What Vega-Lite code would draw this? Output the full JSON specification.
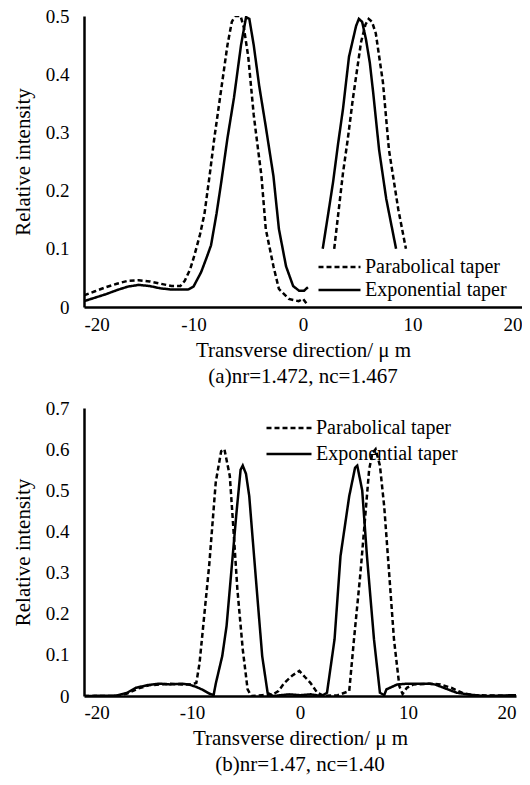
{
  "$schema": "https://vega.github.io/schema/vega-lite/v6.json",
  "background": "white",
  "padding": {"left": 12, "top": 7, "right": 0, "bottom": 2},
  "spacing": 12,
  "resolve": {"scale": {"strokeDash": "independent"}, "legend": {"strokeDash": "independent"}},
  "config": {
    "font": "Liberation Serif",
    "view": {"stroke": null},
    "axis": {
      "domainColor": "black", "domainWidth": 2.5, "ticks": false, "grid": false,
      "labelFont": "Liberation Serif", "labelFontSize": 19, "labelColor": "black",
      "titleFont": "Liberation Serif", "titleFontSize": 21, "titleFontWeight": "normal", "titleColor": "black"
    },
    "legend": {
      "labelFont": "Liberation Serif", "labelFontSize": 20, "labelColor": "black",
      "symbolType": "stroke", "symbolStrokeWidth": 2.5, "symbolStrokeColor": "black",
      "labelOffset": 3, "title": null, "orient": "none", "padding": 0
    },
    "title": {"font": "Liberation Serif", "fontSize": 21, "fontWeight": "normal", "color": "black"}
  },
  "vconcat": [
    {
      "width": 438, "height": 291,
      "title": {"text": "(a)nr=1.472, nc=1.467", "orient": "bottom", "offset": 6},
      "data": {"values": [
        {"series": "Parabolical taper", "seg": 1, "x": -20, "y": 0.02},
        {"series": "Parabolical taper", "seg": 1, "x": -19, "y": 0.027},
        {"series": "Parabolical taper", "seg": 1, "x": -18, "y": 0.034},
        {"series": "Parabolical taper", "seg": 1, "x": -17, "y": 0.04},
        {"series": "Parabolical taper", "seg": 1, "x": -16, "y": 0.045},
        {"series": "Parabolical taper", "seg": 1, "x": -15, "y": 0.046},
        {"series": "Parabolical taper", "seg": 1, "x": -14, "y": 0.044},
        {"series": "Parabolical taper", "seg": 1, "x": -13, "y": 0.04},
        {"series": "Parabolical taper", "seg": 1, "x": -12, "y": 0.036},
        {"series": "Parabolical taper", "seg": 1, "x": -11.2, "y": 0.036},
        {"series": "Parabolical taper", "seg": 1, "x": -10.8, "y": 0.045},
        {"series": "Parabolical taper", "seg": 1, "x": -10.3, "y": 0.065},
        {"series": "Parabolical taper", "seg": 1, "x": -9.9, "y": 0.09},
        {"series": "Parabolical taper", "seg": 1, "x": -9.4, "y": 0.125},
        {"series": "Parabolical taper", "seg": 1, "x": -9.0, "y": 0.16},
        {"series": "Parabolical taper", "seg": 1, "x": -8.5, "y": 0.23},
        {"series": "Parabolical taper", "seg": 1, "x": -8.1, "y": 0.29},
        {"series": "Parabolical taper", "seg": 1, "x": -7.5, "y": 0.37},
        {"series": "Parabolical taper", "seg": 1, "x": -6.9, "y": 0.45},
        {"series": "Parabolical taper", "seg": 1, "x": -6.5, "y": 0.49},
        {"series": "Parabolical taper", "seg": 1, "x": -6.2, "y": 0.5},
        {"series": "Parabolical taper", "seg": 1, "x": -5.7, "y": 0.5},
        {"series": "Parabolical taper", "seg": 1, "x": -5.4, "y": 0.48},
        {"series": "Parabolical taper", "seg": 1, "x": -5.0, "y": 0.43},
        {"series": "Parabolical taper", "seg": 1, "x": -4.5, "y": 0.33},
        {"series": "Parabolical taper", "seg": 1, "x": -4.1, "y": 0.27},
        {"series": "Parabolical taper", "seg": 1, "x": -3.8, "y": 0.226},
        {"series": "Parabolical taper", "seg": 1, "x": -3.4, "y": 0.134},
        {"series": "Parabolical taper", "seg": 1, "x": -2.7, "y": 0.07},
        {"series": "Parabolical taper", "seg": 1, "x": -2.2, "y": 0.031},
        {"series": "Parabolical taper", "seg": 1, "x": -1.3, "y": 0.014},
        {"series": "Parabolical taper", "seg": 1, "x": -0.4, "y": 0.01},
        {"series": "Parabolical taper", "seg": 1, "x": 0, "y": 0.014},
        {"series": "Parabolical taper", "seg": 1, "x": 0.4, "y": 0.004},
        {"series": "Exponential taper", "seg": 1, "x": -20, "y": 0.01},
        {"series": "Exponential taper", "seg": 1, "x": -19, "y": 0.016},
        {"series": "Exponential taper", "seg": 1, "x": -18, "y": 0.022},
        {"series": "Exponential taper", "seg": 1, "x": -17, "y": 0.029},
        {"series": "Exponential taper", "seg": 1, "x": -16, "y": 0.035},
        {"series": "Exponential taper", "seg": 1, "x": -15, "y": 0.038},
        {"series": "Exponential taper", "seg": 1, "x": -14, "y": 0.036},
        {"series": "Exponential taper", "seg": 1, "x": -13, "y": 0.032},
        {"series": "Exponential taper", "seg": 1, "x": -12, "y": 0.03},
        {"series": "Exponential taper", "seg": 1, "x": -10.5, "y": 0.03},
        {"series": "Exponential taper", "seg": 1, "x": -10, "y": 0.035},
        {"series": "Exponential taper", "seg": 1, "x": -9.3, "y": 0.06},
        {"series": "Exponential taper", "seg": 1, "x": -8.8, "y": 0.085},
        {"series": "Exponential taper", "seg": 1, "x": -8.4, "y": 0.106},
        {"series": "Exponential taper", "seg": 1, "x": -7.9, "y": 0.16},
        {"series": "Exponential taper", "seg": 1, "x": -7.5, "y": 0.21},
        {"series": "Exponential taper", "seg": 1, "x": -6.9, "y": 0.29},
        {"series": "Exponential taper", "seg": 1, "x": -6.3, "y": 0.36},
        {"series": "Exponential taper", "seg": 1, "x": -5.66, "y": 0.45},
        {"series": "Exponential taper", "seg": 1, "x": -5.2, "y": 0.498},
        {"series": "Exponential taper", "seg": 1, "x": -4.9, "y": 0.495},
        {"series": "Exponential taper", "seg": 1, "x": -4.5, "y": 0.45},
        {"series": "Exponential taper", "seg": 1, "x": -4.0, "y": 0.38},
        {"series": "Exponential taper", "seg": 1, "x": -3.4, "y": 0.31},
        {"series": "Exponential taper", "seg": 1, "x": -2.7, "y": 0.225},
        {"series": "Exponential taper", "seg": 1, "x": -2.2, "y": 0.134},
        {"series": "Exponential taper", "seg": 1, "x": -1.55, "y": 0.07},
        {"series": "Exponential taper", "seg": 1, "x": -0.9, "y": 0.036},
        {"series": "Exponential taper", "seg": 1, "x": -0.36, "y": 0.028},
        {"series": "Exponential taper", "seg": 1, "x": 0.1, "y": 0.028},
        {"series": "Exponential taper", "seg": 1, "x": 0.45, "y": 0.034},
        {"series": "Exponential taper", "seg": 2, "x": 1.8, "y": 0.1},
        {"series": "Exponential taper", "seg": 2, "x": 2.3, "y": 0.16},
        {"series": "Exponential taper", "seg": 2, "x": 2.75, "y": 0.215},
        {"series": "Exponential taper", "seg": 2, "x": 3.2, "y": 0.28},
        {"series": "Exponential taper", "seg": 2, "x": 3.65, "y": 0.34},
        {"series": "Exponential taper", "seg": 2, "x": 4.2, "y": 0.43},
        {"series": "Exponential taper", "seg": 2, "x": 4.85, "y": 0.483},
        {"series": "Exponential taper", "seg": 2, "x": 5.1, "y": 0.495},
        {"series": "Exponential taper", "seg": 2, "x": 5.4, "y": 0.49},
        {"series": "Exponential taper", "seg": 2, "x": 5.75, "y": 0.46},
        {"series": "Exponential taper", "seg": 2, "x": 6.1, "y": 0.42},
        {"series": "Exponential taper", "seg": 2, "x": 6.4, "y": 0.37},
        {"series": "Exponential taper", "seg": 2, "x": 6.95, "y": 0.27},
        {"series": "Exponential taper", "seg": 2, "x": 7.6, "y": 0.186},
        {"series": "Exponential taper", "seg": 2, "x": 8.5, "y": 0.1},
        {"series": "Parabolical taper", "seg": 2, "x": 2.85, "y": 0.1},
        {"series": "Parabolical taper", "seg": 2, "x": 3.25, "y": 0.165},
        {"series": "Parabolical taper", "seg": 2, "x": 3.65, "y": 0.23},
        {"series": "Parabolical taper", "seg": 2, "x": 4.1, "y": 0.29},
        {"series": "Parabolical taper", "seg": 2, "x": 4.55, "y": 0.357},
        {"series": "Parabolical taper", "seg": 2, "x": 5.3, "y": 0.455},
        {"series": "Parabolical taper", "seg": 2, "x": 5.7, "y": 0.485},
        {"series": "Parabolical taper", "seg": 2, "x": 6.0, "y": 0.495},
        {"series": "Parabolical taper", "seg": 2, "x": 6.3, "y": 0.49},
        {"series": "Parabolical taper", "seg": 2, "x": 6.65, "y": 0.47},
        {"series": "Parabolical taper", "seg": 2, "x": 7.3, "y": 0.386},
        {"series": "Parabolical taper", "seg": 2, "x": 7.85, "y": 0.27},
        {"series": "Parabolical taper", "seg": 2, "x": 8.7, "y": 0.168},
        {"series": "Parabolical taper", "seg": 2, "x": 9.4, "y": 0.1}
      ]},
      "mark": {"type": "line", "color": "black", "strokeWidth": 2.5, "clip": true},
      "encoding": {
        "x": {"field": "x", "type": "quantitative", "scale": {"domain": [-20, 20], "nice": false},
          "axis": {"values": [-20, -10, 0, 10, 20], "title": "Transverse direction/ μ m",
            "labelExpr": "datum.value < 0 ? '-' + abs(datum.value) : '' + datum.value",
            "labelPadding": 8, "titlePadding": 5}},
        "y": {"field": "y", "type": "quantitative", "scale": {"domain": [0, 0.5], "nice": false},
          "axis": {"values": [0, 0.1, 0.2, 0.3, 0.4, 0.5], "title": "Relative intensity",
            "labelExpr": "datum.value == 0 ? '0' : format(datum.value, '.1f')",
            "labelPadding": 15, "titlePadding": 12}},
        "strokeDash": {"field": "series", "type": "nominal",
          "scale": {"domain": ["Parabolical taper", "Exponential taper"], "range": [[5, 3], [1, 0]]},
          "legend": {"legendX": 233, "legendY": 241, "symbolSize": 1764, "clipHeight": 20, "rowPadding": 3}},
        "detail": {"field": "seg", "type": "nominal"}
      }
    },
    {
      "width": 432, "height": 288,
      "title": {"text": "(b)nr=1.47, nc=1.40", "orient": "bottom", "offset": 6},
      "data": {"values": [
        {"series": "Exponential taper", "x": -20, "y": 0},
        {"series": "Exponential taper", "x": -17, "y": 0.001},
        {"series": "Exponential taper", "x": -16, "y": 0.008},
        {"series": "Exponential taper", "x": -15.2, "y": 0.02},
        {"series": "Exponential taper", "x": -14, "y": 0.027},
        {"series": "Exponential taper", "x": -13, "y": 0.03},
        {"series": "Exponential taper", "x": -12, "y": 0.028},
        {"series": "Exponential taper", "x": -11, "y": 0.03},
        {"series": "Exponential taper", "x": -10.3, "y": 0.028},
        {"series": "Exponential taper", "x": -9.6, "y": 0.022},
        {"series": "Exponential taper", "x": -9.0, "y": 0.015},
        {"series": "Exponential taper", "x": -8.4, "y": 0.006},
        {"series": "Exponential taper", "x": -8.0, "y": 0.002},
        {"series": "Exponential taper", "x": -7.8, "y": 0.03},
        {"series": "Exponential taper", "x": -7.2, "y": 0.097},
        {"series": "Exponential taper", "x": -6.8, "y": 0.17},
        {"series": "Exponential taper", "x": -6.5, "y": 0.26},
        {"series": "Exponential taper", "x": -5.9, "y": 0.44},
        {"series": "Exponential taper", "x": -5.5, "y": 0.55},
        {"series": "Exponential taper", "x": -5.3, "y": 0.56},
        {"series": "Exponential taper", "x": -5.0, "y": 0.54},
        {"series": "Exponential taper", "x": -4.7, "y": 0.486},
        {"series": "Exponential taper", "x": -4.1, "y": 0.29},
        {"series": "Exponential taper", "x": -3.5, "y": 0.097},
        {"series": "Exponential taper", "x": -3.0, "y": 0.008},
        {"series": "Exponential taper", "x": -2.5, "y": 0},
        {"series": "Exponential taper", "x": -1, "y": 0.004},
        {"series": "Exponential taper", "x": 0, "y": 0.002},
        {"series": "Exponential taper", "x": 1, "y": 0.004},
        {"series": "Exponential taper", "x": 2.0, "y": 0},
        {"series": "Exponential taper", "x": 2.5, "y": 0.008},
        {"series": "Exponential taper", "x": 3.2, "y": 0.138},
        {"series": "Exponential taper", "x": 3.75, "y": 0.34},
        {"series": "Exponential taper", "x": 4.56, "y": 0.486},
        {"series": "Exponential taper", "x": 5.1, "y": 0.555},
        {"series": "Exponential taper", "x": 5.3, "y": 0.56},
        {"series": "Exponential taper", "x": 5.76, "y": 0.5},
        {"series": "Exponential taper", "x": 6.2, "y": 0.34},
        {"series": "Exponential taper", "x": 6.85, "y": 0.138},
        {"series": "Exponential taper", "x": 7.4, "y": 0.008},
        {"series": "Exponential taper", "x": 7.8, "y": 0.002},
        {"series": "Exponential taper", "x": 8.0, "y": 0.016},
        {"series": "Exponential taper", "x": 9.0, "y": 0.028},
        {"series": "Exponential taper", "x": 10, "y": 0.03},
        {"series": "Exponential taper", "x": 11, "y": 0.03},
        {"series": "Exponential taper", "x": 12, "y": 0.03},
        {"series": "Exponential taper", "x": 12.5, "y": 0.028},
        {"series": "Exponential taper", "x": 13.3, "y": 0.02},
        {"series": "Exponential taper", "x": 14.5, "y": 0.008},
        {"series": "Exponential taper", "x": 15.5, "y": 0.004},
        {"series": "Exponential taper", "x": 17, "y": 0},
        {"series": "Exponential taper", "x": 20, "y": 0.002},
        {"series": "Parabolical taper", "x": -20, "y": 0},
        {"series": "Parabolical taper", "x": -17, "y": 0},
        {"series": "Parabolical taper", "x": -16, "y": 0.006},
        {"series": "Parabolical taper", "x": -15, "y": 0.018},
        {"series": "Parabolical taper", "x": -14, "y": 0.026},
        {"series": "Parabolical taper", "x": -13, "y": 0.028},
        {"series": "Parabolical taper", "x": -12, "y": 0.03},
        {"series": "Parabolical taper", "x": -11, "y": 0.028},
        {"series": "Parabolical taper", "x": -10, "y": 0.028},
        {"series": "Parabolical taper", "x": -9.6, "y": 0.032},
        {"series": "Parabolical taper", "x": -9.3, "y": 0.08},
        {"series": "Parabolical taper", "x": -9.0, "y": 0.16},
        {"series": "Parabolical taper", "x": -8.4, "y": 0.32},
        {"series": "Parabolical taper", "x": -7.8, "y": 0.52},
        {"series": "Parabolical taper", "x": -7.3, "y": 0.595},
        {"series": "Parabolical taper", "x": -7.0, "y": 0.6},
        {"series": "Parabolical taper", "x": -6.5, "y": 0.535},
        {"series": "Parabolical taper", "x": -6.2, "y": 0.42},
        {"series": "Parabolical taper", "x": -5.8, "y": 0.26},
        {"series": "Parabolical taper", "x": -5.3, "y": 0.113},
        {"series": "Parabolical taper", "x": -4.85, "y": 0.016},
        {"series": "Parabolical taper", "x": -4.5, "y": 0},
        {"series": "Parabolical taper", "x": -3.5, "y": 0.002},
        {"series": "Parabolical taper", "x": -2.5, "y": 0.004},
        {"series": "Parabolical taper", "x": -2.0, "y": 0.012},
        {"series": "Parabolical taper", "x": -1.44, "y": 0.032},
        {"series": "Parabolical taper", "x": -0.7, "y": 0.05},
        {"series": "Parabolical taper", "x": -0.06, "y": 0.061},
        {"series": "Parabolical taper", "x": 0.5, "y": 0.045},
        {"series": "Parabolical taper", "x": 0.96, "y": 0.032},
        {"series": "Parabolical taper", "x": 1.6, "y": 0.008},
        {"series": "Parabolical taper", "x": 2.2, "y": 0},
        {"series": "Parabolical taper", "x": 3.5, "y": 0.002},
        {"series": "Parabolical taper", "x": 4.56, "y": 0.012},
        {"series": "Parabolical taper", "x": 5.0, "y": 0.138},
        {"series": "Parabolical taper", "x": 5.6, "y": 0.3},
        {"series": "Parabolical taper", "x": 6.05, "y": 0.44},
        {"series": "Parabolical taper", "x": 6.4, "y": 0.55},
        {"series": "Parabolical taper", "x": 6.7, "y": 0.59},
        {"series": "Parabolical taper", "x": 7.0, "y": 0.6},
        {"series": "Parabolical taper", "x": 7.4, "y": 0.56},
        {"series": "Parabolical taper", "x": 7.8, "y": 0.46},
        {"series": "Parabolical taper", "x": 8.25, "y": 0.3},
        {"series": "Parabolical taper", "x": 8.7, "y": 0.138},
        {"series": "Parabolical taper", "x": 9.2, "y": 0.024},
        {"series": "Parabolical taper", "x": 9.5, "y": 0.005},
        {"series": "Parabolical taper", "x": 9.9, "y": 0.02},
        {"series": "Parabolical taper", "x": 10.5, "y": 0.028},
        {"series": "Parabolical taper", "x": 12, "y": 0.03},
        {"series": "Parabolical taper", "x": 13, "y": 0.028},
        {"series": "Parabolical taper", "x": 14, "y": 0.02},
        {"series": "Parabolical taper", "x": 15, "y": 0.008},
        {"series": "Parabolical taper", "x": 16, "y": 0.002},
        {"series": "Parabolical taper", "x": 20, "y": 0}
      ]},
      "mark": {"type": "line", "color": "black", "strokeWidth": 2.5, "clip": true},
      "encoding": {
        "x": {"field": "x", "type": "quantitative", "scale": {"domain": [-20, 20], "nice": false},
          "axis": {"values": [-20, -10, 0, 10, 20], "title": "Transverse direction/ μ m",
            "labelExpr": "datum.value < 0 ? '-' + abs(datum.value) : '' + datum.value",
            "labelPadding": 7, "titlePadding": 5}},
        "y": {"field": "y", "type": "quantitative", "scale": {"domain": [0, 0.7], "nice": false},
          "axis": {"values": [0, 0.1, 0.2, 0.3, 0.4, 0.5, 0.6, 0.7], "title": "Relative intensity",
            "labelExpr": "datum.value == 0 ? '0' : format(datum.value, '.1f')",
            "labelPadding": 15, "titlePadding": 12}},
        "strokeDash": {"field": "series", "type": "nominal",
          "scale": {"domain": ["Parabolical taper", "Exponential taper"], "range": [[5, 3], [1, 0]]},
          "legend": {"legendX": 181, "legendY": 9, "symbolSize": 2025, "clipHeight": 22, "rowPadding": 4}}
      }
    }
  ]
}
